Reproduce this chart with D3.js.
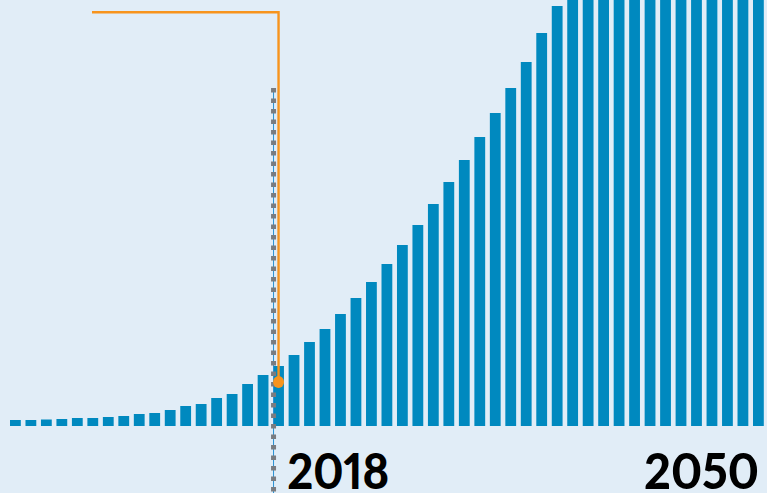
<!DOCTYPE html>
<html>
<head>
<meta charset="utf-8">
<script src="https://cdn.jsdelivr.net/npm/d3@7"></script>
<style>
  html, body { margin: 0; padding: 0; background: #e1edf7; }
  svg { display: block; }
  .year-label { font-variant-numeric: proportional-nums; font-feature-settings: "pnum" 1; }
</style>
</head>
<body>
<div id="chart"></div>
<script>
'use strict';

// years shown as bars (the last one runs past the right edge of the frame)
const years = d3.range(2001, 2051);

// values (arbitrary units), bars past 2036 go above the frame
const values = [
	6, 6, 6.5, 7, 8, 8, 9, 10, 12, 13,
	16, 20, 22, 28, 32, 42, 51, 60, 71, 84,
	97, 112, 128, 144, 162, 181, 201, 222, 244, 266,
	289, 313, 338, 364, 393, 420, 447, 475, 502, 531,
	559, 588, 616, 645, 673, 702, 730, 759, 787, 816
];

const currentYear = 2018;
const labelYears = ['2018', '2050'];

const width = 767,
	height = 493;

const svg = d3.select('#chart').append('svg')
	.attr('width', width)
	.attr('height', height);

svg.append('rect')
	.attr('width', width)
	.attr('height', height)
	.attr('fill', '#e1edf7');

const x = d3.scaleLinear()
	.domain([2001, 2049])
	.range([10, 753]);
const barW = 10.8;

const y = d3.scaleLinear()
	.domain([0, 426])
	.range([426, 0]);

// bars
svg.append('g')
	.selectAll('rect')
	.data(years)
	.join('rect')
	.attr('x', d => x(d))
	.attr('y', (d, i) => y(values[i]))
	.attr('width', barW)
	.attr('height', (d, i) => y(0) - y(values[i]))
	.attr('fill', '#0089bf');

// "today" marker
const xNow = x(currentYear) + 0.4;

svg.append('line')
	.attr('x1', xNow).attr('x2', xNow)
	.attr('y1', 88).attr('y2', height)
	.attr('stroke', '#2a90d2')
	.attr('stroke-width', 1);

svg.append('line')
	.attr('x1', xNow).attr('x2', xNow)
	.attr('y1', 88).attr('y2', height)
	.attr('stroke', '#7a7c80')
	.attr('stroke-width', 5)
	.attr('stroke-dasharray', '4.5 6');

// orange callout
const iNow = years.indexOf(currentYear);
const xDot = x(currentYear) + barW / 2;
const yDot = y(values[iNow]) + 16;

svg.append('path')
	.attr('d', 'M92,12.3H' + xDot + 'V' + yDot)
	.attr('fill', 'none')
	.attr('stroke', '#f7941d')
	.attr('stroke-width', 2.4);

svg.append('ellipse')
	.attr('cx', xDot)
	.attr('cy', yDot)
	.attr('rx', 5.5)
	.attr('ry', 6)
	.attr('fill', '#f7941d');

// year labels
svg.append('text')
	.attr('class', 'year-label')
	.attr('x', x(currentYear) + 14)
	.attr('y', 489)
	.attr('font-family', 'Lato, sans-serif')
	.attr('font-weight', 900)
	.attr('font-size', 50)
	.attr('textLength', 102)
	.attr('lengthAdjust', 'spacingAndGlyphs')
	.attr('fill', '#000')
	.text(labelYears[0]);

svg.append('text')
	.attr('class', 'year-label')
	.attr('x', width - 8)
	.attr('y', 489)
	.attr('text-anchor', 'end')
	.attr('font-family', 'Lato, sans-serif')
	.attr('font-weight', 900)
	.attr('font-size', 50)
	.attr('textLength', 115)
	.attr('lengthAdjust', 'spacingAndGlyphs')
	.attr('fill', '#000')
	.text(labelYears[1]);
</script>
</body>
</html>
